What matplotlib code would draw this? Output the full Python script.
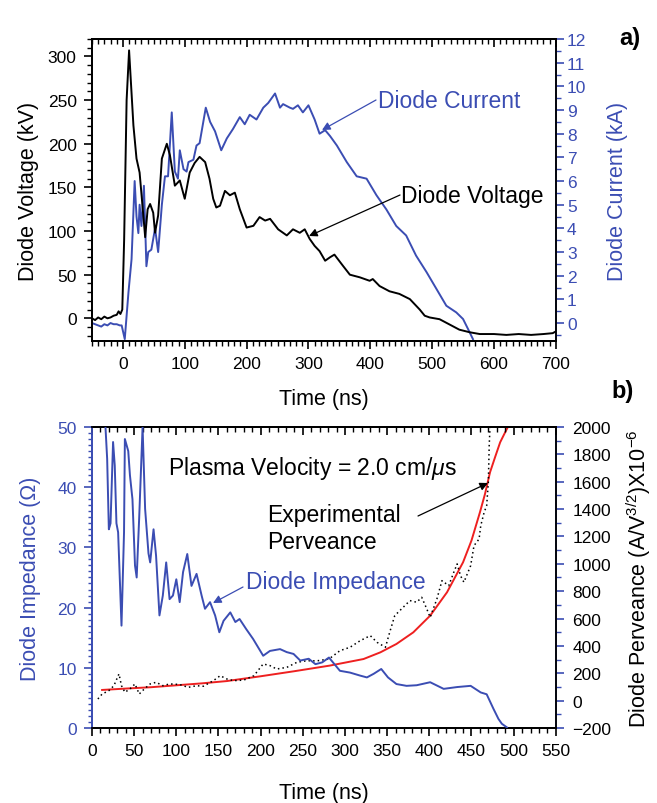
import matplotlib
matplotlib.use("Agg")
import matplotlib.pyplot as plt
from matplotlib.ticker import MultipleLocator
from matplotlib.patches import FancyArrowPatch

plt.rcParams['font.family'] = ['Liberation Sans', 'DejaVu Sans']
plt.rcParams['mathtext.fontset'] = 'custom'
plt.rcParams['mathtext.rm'] = 'Liberation Sans'
plt.rcParams['mathtext.it'] = 'Liberation Sans:italic'

BLUE = '#3b4db3'
RED = '#ee2020'

# ---------------- Panel a) data ----------------
volt_t = [-50, -45, -40, -35, -30, -25, -20, -15, -10, -7, -4, -1, 2, 6, 10, 13, 17, 22, 27, 33, 36,
          40, 44, 49, 52, 57, 63, 71, 76, 84, 92, 100, 108, 116, 124, 133, 140, 146, 151, 157, 165,
          173, 181, 189, 200, 211, 221, 230, 238, 251, 265, 275, 286, 294, 302, 310, 318, 327, 335,
          342, 356, 367, 383, 399, 404, 415, 431, 447, 464, 480, 488, 496, 512, 528, 544, 561, 577,
          600, 620, 640, 660, 680, 695, 700]
volt_v = [0, -2, 1, -1, 2, 0, 1, 3, 4, 8, 5, 10, 90, 250, 307, 270, 221, 183, 167, 118, 93,
          125, 131, 121, 98, 118, 183, 200, 187, 152, 158, 137, 167, 178, 185, 179, 160, 137, 127, 129, 146,
          141, 144, 125, 104, 106, 116, 112, 114, 102, 95, 102, 98, 102, 91, 83, 77, 66, 70,
          73, 60, 50, 47, 43, 45, 37, 31, 28, 22, 10, 3, 1, -1, -7, -13, -16, -18,
          -18, -19, -18, -19, -18, -17, -15]

curr_t = [-50, -45, -40, -35, -30, -25, -20, -15, -10, -5, -2, 3, 9, 14, 19, 22, 25, 27, 30, 34, 38,
          41, 46, 52, 57, 63, 68, 73, 79, 84, 89, 92, 98, 103, 106, 114, 119, 124, 134, 141, 149,
          159, 168, 178, 189, 197, 205, 216, 227, 235, 246, 254, 259, 270, 275, 283, 291, 300, 310,
          318, 327, 335, 346, 362, 378, 394, 410, 426, 442, 458, 474, 491, 507, 523, 539, 550, 558, 566]
curr_i = [0.0, -0.05, -0.1, -0.15, -0.05, -0.1, 0.0, -0.05, -0.05, -0.1, -0.1, -0.68, 1.3, 2.7, 6.0, 4.5, 3.8, 5.0, 4.1, 5.8, 2.4,
          3.0, 3.1, 4.0, 3.0, 5.0, 6.2, 6.2, 8.9, 6.4, 6.1, 7.3, 6.5, 6.4, 6.8, 6.9, 7.5, 7.6, 9.1, 8.5, 8.1,
          7.3, 7.8, 8.2, 8.7, 8.4, 8.8, 8.6, 9.1, 9.3, 9.7, 9.1, 9.25, 9.1, 9.05, 9.2, 8.9, 9.2, 8.6,
          8.0, 8.15, 7.9, 7.5, 6.8, 6.2, 6.1, 5.4, 4.8, 4.1, 3.7, 2.85, 2.15, 1.44, 0.73, 0.45, 0.17, -0.25, -0.68]

# ---------------- Panel b) data ----------------
imp_t = [16, 18, 20, 22, 25, 27, 29, 31, 35, 38, 39, 43, 45, 48, 51, 53, 56, 60, 63, 67, 69, 73, 76,
         80, 84, 88, 92, 96, 100, 104, 108, 113, 118, 124, 130, 134, 140, 146, 151, 156, 164, 170,
         175, 183, 191, 203, 211, 223, 231, 239, 247, 257, 265, 273, 281, 294, 306, 318, 326, 334,
         343, 351, 361, 373, 385, 401, 417, 433, 449, 461, 468, 476, 482, 486, 492]
imp_z = [50, 44.7, 33, 34, 47.5, 43.6, 34, 32.5, 17, 32.5, 48, 46, 42, 38, 27, 25, 35, 50, 36.4, 29, 27.5, 33, 28.6,
         18.7, 22, 27.5, 21.4, 22, 24.7, 20.9, 25.9, 28.9, 23.6, 25.6, 22, 19.8, 20.9, 18.7, 15.9, 17.8, 19.2, 17.6,
         18.1, 16.4, 14.8, 12, 12.8, 13.1, 12.6, 12.3, 11.2, 11.5, 10.6, 10.9, 11.7, 9.5, 9.2, 8.7, 8.4, 9.0,
         9.8, 8.4, 7.3, 7.0, 7.1, 7.6, 6.5, 6.8, 7.0, 5.9, 5.6, 3.2, 1.5, 0.7, 0.1]

model_t = [12, 40, 70, 100, 130, 160, 200, 240, 282, 322, 342, 361, 381, 401, 421, 440, 450, 460, 466, 472, 478, 484, 489, 493]
model_p = [78, 88, 98, 112, 126, 143, 178, 215, 256, 304, 353, 414, 499, 621, 792, 1011, 1170, 1376, 1510, 1669, 1780, 1888, 1950, 1998]

exp_t = [7, 12, 20, 26, 32, 35, 39, 45, 51, 56, 62, 69, 76, 84, 92, 104, 114, 124, 132, 144, 152, 160,
         168, 180, 192, 203, 211, 219, 231, 243, 255, 266, 281, 294, 306, 318, 330, 338, 348, 353, 359,
         367, 377, 385, 391, 397, 401, 409, 415, 423, 429, 433, 437, 441, 449, 453, 459, 461, 465, 468,
         470, 471, 472]
exp_p = [12, 48, 73, 109, 195, 109, 61, 85, 122, 48, 85, 122, 134, 109, 122, 118, 97, 109, 105, 146, 182, 158,
         146, 150, 182, 268, 256, 231, 243, 280, 292, 290, 304, 365, 390, 438, 475, 426, 390, 499, 621,
         670, 731, 719, 755, 670, 609, 743, 877, 840, 938, 999, 913, 865, 986, 1133, 1181, 1279, 1376, 1425,
         1596, 1864, 2000]

TICK_FS = 12.5
LABEL_FS = 15.5
NOTE_FS = 16.5

fig = plt.figure(figsize=(6.57, 8.04), dpi=100)


def style_x(ax, major, minor):
    ax.xaxis.set_major_locator(MultipleLocator(major))
    ax.xaxis.set_minor_locator(MultipleLocator(minor))
    ax.tick_params(axis='x', which='major', direction='out', length=6, width=1.2, pad=5, labelsize=TICK_FS)
    ax.tick_params(axis='x', which='minor', direction='out', length=3.5, width=1)
    top = ax.secondary_xaxis('top')
    top.xaxis.set_major_locator(MultipleLocator(major))
    top.xaxis.set_minor_locator(MultipleLocator(minor))
    top.tick_params(axis='x', which='major', direction='in', length=6, width=1.2, labeltop=False)
    top.tick_params(axis='x', which='minor', direction='in', length=3.5, width=1)
    top.spines['top'].set_linewidth(1.3)


# ---------- Panel a ----------
ax1 = fig.add_axes([0.140, 0.5746, 0.706, 0.3756])
ax1r = ax1.twinx()
ax1.plot(volt_t, volt_v, color='black', lw=1.4, zorder=3)
ax1r.plot(curr_t, curr_i, color=BLUE, lw=1.4)
ax1.set_zorder(ax1r.get_zorder() + 1)
ax1.patch.set_visible(False)

ax1.set_xlim(-50, 700)
ax1.set_ylim(-26, 320)
ax1r.set_ylim(-0.76, 12)
style_x(ax1, 100, 10)
ax1.yaxis.set_major_locator(MultipleLocator(50))
ax1.yaxis.set_minor_locator(MultipleLocator(10))
ax1r.yaxis.set_major_locator(MultipleLocator(1))
ax1r.yaxis.set_minor_locator(MultipleLocator(0.5))

ax1.tick_params(axis='y', which='major', direction='out', length=6, width=1.2, pad=5, labelsize=TICK_FS)
ax1.tick_params(axis='y', which='minor', direction='out', length=3.5, width=1)
ax1r.tick_params(axis='y', which='major', direction='out', length=6, width=1.2, pad=2, colors=BLUE, labelsize=TICK_FS)
ax1r.tick_params(axis='y', which='minor', direction='out', length=3.5, width=1, colors=BLUE)
for s in list(ax1.spines.values()) + list(ax1r.spines.values()):
    s.set_linewidth(1.3)
ax1r.spines['right'].set_color(BLUE)

ax1.set_xlabel('Time (ns)', fontsize=LABEL_FS, labelpad=12)
ax1.set_ylabel('Diode Voltage (kV)', fontsize=LABEL_FS, labelpad=6)
ax1r.set_ylabel('Diode Current (kA)', fontsize=LABEL_FS, color=BLUE, labelpad=15)

# ---------- Panel b ----------
ax2 = fig.add_axes([0.140, 0.0933, 0.706, 0.3744])
ax2r = ax2.twinx()
ax2.plot(imp_t, imp_z, color=BLUE, lw=1.4, zorder=3)
ax2r.plot(model_t, model_p, color=RED, lw=1.4)
ax2r.plot(exp_t, exp_p, color='black', lw=1.1, ls=(0, (1, 2)))
ax2.set_zorder(ax2r.get_zorder() + 1)
ax2.patch.set_visible(False)

ax2.set_xlim(0, 550)
ax2.set_ylim(0, 50)
ax2r.set_ylim(-200, 2000)
style_x(ax2, 50, 10)
ax2.yaxis.set_major_locator(MultipleLocator(10))
ax2.yaxis.set_minor_locator(MultipleLocator(1))
ax2r.yaxis.set_major_locator(MultipleLocator(200))
ax2r.yaxis.set_minor_locator(MultipleLocator(100))

ax2.tick_params(axis='y', which='major', direction='out', length=6, width=1.2, pad=5, colors=BLUE, labelsize=TICK_FS)
ax2.tick_params(axis='y', which='minor', direction='out', length=3, width=1, colors=BLUE)
ax2r.tick_params(axis='y', which='major', direction='out', length=6, width=1.2, pad=6, color=BLUE,
                 labelcolor='black', labelsize=TICK_FS)
ax2r.tick_params(axis='y', which='minor', direction='out', length=3.5, width=1, color=BLUE)
for s in list(ax2.spines.values()) + list(ax2r.spines.values()):
    s.set_linewidth(1.3)
ax2.spines['left'].set_color(BLUE)
ax2r.spines['left'].set_color(BLUE)
ax2r.spines['right'].set_color(BLUE)

ax2.set_xlabel('Time (ns)', fontsize=LABEL_FS, labelpad=17)
ax2.set_ylabel('Diode Impedance (\u03a9)', fontsize=LABEL_FS, color=BLUE, labelpad=12)
ax2r.set_ylabel('Diode Perveance (A/V$^{3/2}$)X10$^{-6}$', fontsize=LABEL_FS, color='black', labelpad=9)

# ---------- annotations (figure pixel coordinates) ----------
H = 804.0
W = 657.0


def fc(x, y):
    return (x / W, 1 - y / H)


ar = dict(arrowstyle='-|>', lw=0.9, shrinkA=0, shrinkB=0, mutation_scale=12)
fig.text(*fc(378, 101), 'Diode Current', fontsize=NOTE_FS, color=BLUE, va='center', ha='left')
fig.add_artist(FancyArrowPatch(fc(376, 101), fc(322, 131), transform=fig.transFigure, color=BLUE, **ar))
fig.text(*fc(401, 197), 'Diode Voltage', fontsize=NOTE_FS, color='black', va='center', ha='left')
fig.add_artist(FancyArrowPatch(fc(400, 196), fc(309, 237), transform=fig.transFigure, color='black', **ar))

fig.text(*fc(168, 469), 'Plasma Velocity = 2.0 cm/$\\mu$s', fontsize=NOTE_FS, color='black', va='center', ha='left')
fig.text(*fc(267, 529), 'Experimental\nPerveance', fontsize=NOTE_FS, color='black', va='center', ha='left',
         linespacing=1.2)
fig.add_artist(FancyArrowPatch(fc(418, 517), fc(488, 484), transform=fig.transFigure, color='black', **ar))
fig.text(*fc(246, 583), 'Diode Impedance', fontsize=NOTE_FS, color=BLUE, va='center', ha='left')
fig.add_artist(FancyArrowPatch(fc(243, 588), fc(213, 604), transform=fig.transFigure, color=BLUE, **ar))

fig.text(*fc(630, 38), 'a)', fontsize=17, fontweight='bold', va='center', ha='center')
fig.text(*fc(623, 392), 'b)', fontsize=17, fontweight='bold', va='center', ha='center')

fig.savefig('out.png', dpi=100)
